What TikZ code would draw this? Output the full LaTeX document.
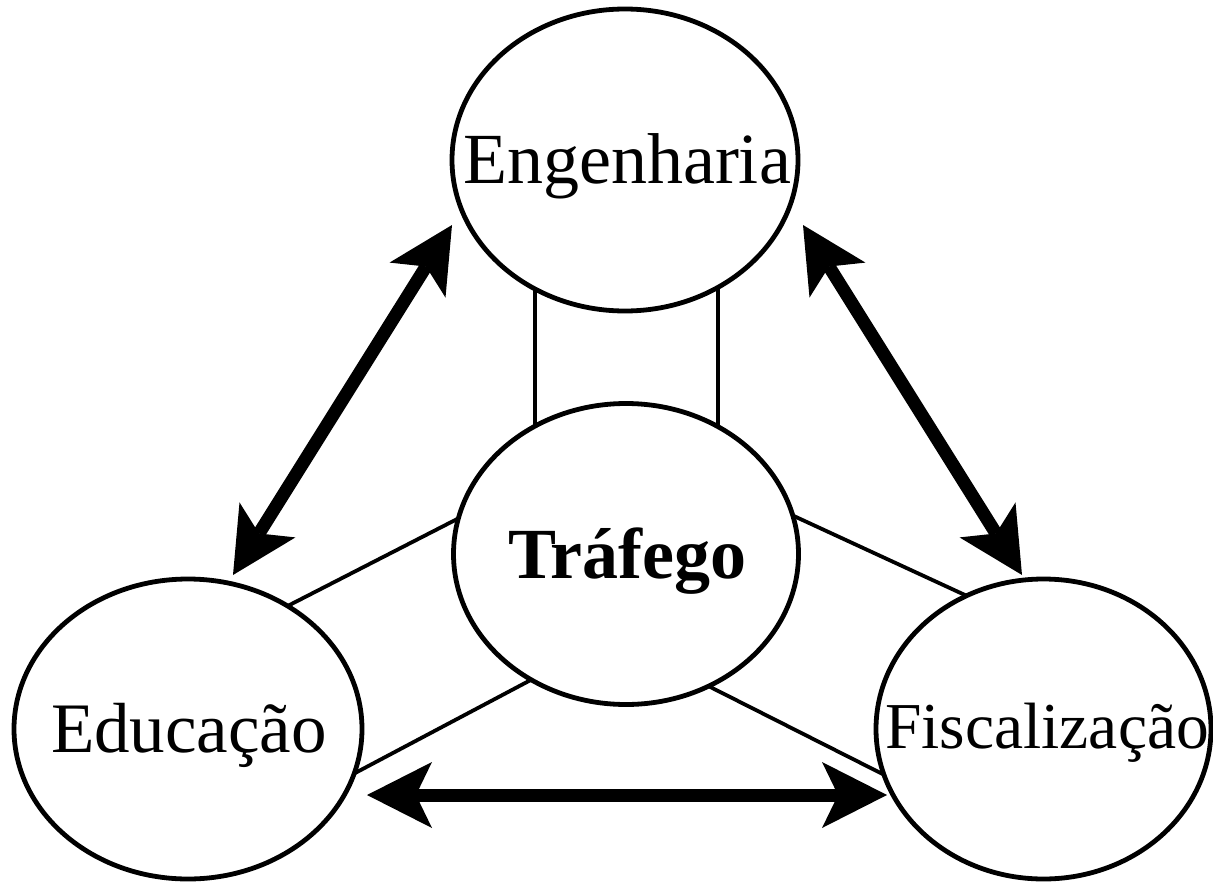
\documentclass[tikz,border=0pt]{standalone}
\usepackage{fontspec}
\setmainfont{Liberation Serif}
\usetikzlibrary{arrows.meta,shapes.geometric}
\begin{document}
\begin{tikzpicture}[x=1pt,y=-1pt,
  ell/.style={draw,ellipse,line width=4.8pt,inner sep=0pt,outer sep=0pt},
  link/.style={line width=3.8pt},
  biga/.style={line width=13pt,{Stealth[length=65pt,width=66pt,inset=16pt,line width=0pt]}-{Stealth[length=65pt,width=66pt,inset=16pt,line width=0pt]}},
  lbl/.style={anchor=base,inner sep=0pt}
]
\useasboundingbox (0,0) rectangle (1213,883);

\node[ell,minimum width=346pt,minimum height=302pt] (eng) at (625,160) {};
\node[ell,minimum width=345pt,minimum height=301pt] (traf) at (626,554) {};
\node[ell,minimum width=348pt,minimum height=300pt] (edu) at (188,729) {};
\node[ell,minimum width=335pt,minimum height=300pt] (fisc) at (1043.5,729) {};

\node[lbl,font=\fontsize{72}{80}\selectfont] (engt) at (627,183) {Engenharia};
\node[lbl,font=\fontsize{72}{80}\selectfont\bfseries] (traft) at (627.5,578) {Tráfego};
\node[lbl,font=\fontsize{71}{80}\selectfont] (edut) at (189,752) {Educação};
\node[lbl,font=\fontsize{65.5}{74}\selectfont] (fisct) at (1047,748) {Fiscalização};

% thin links
\draw[link] (eng.235.9) -- (eng.235.9 |- traf.125);
\draw[link] (eng.306.8) -- (eng.306.8 |- traf.53.5);
\draw[link] (traf.168.4) -- (edu.51.1);
\draw[link] (traf.233.3) -- (edu.345.7);
\draw[link] (traf.13.6) -- (fisc.120.5);
\draw[link] (traf.302.7) -- (fisc.196.2);

% thick double arrows
\coordinate (a1) at (452,225);
\coordinate (a2) at (233,575);
\coordinate (a3) at (803,225);
\coordinate (a4) at (1022,575);
\coordinate (a5) at (367,795);
\coordinate (a6) at (887,795);
\draw[biga] (a2) -- (a1);
\draw[biga] (a3) -- (a4);
\draw[biga] (a5) -- (a6);
\end{tikzpicture}
\end{document}
